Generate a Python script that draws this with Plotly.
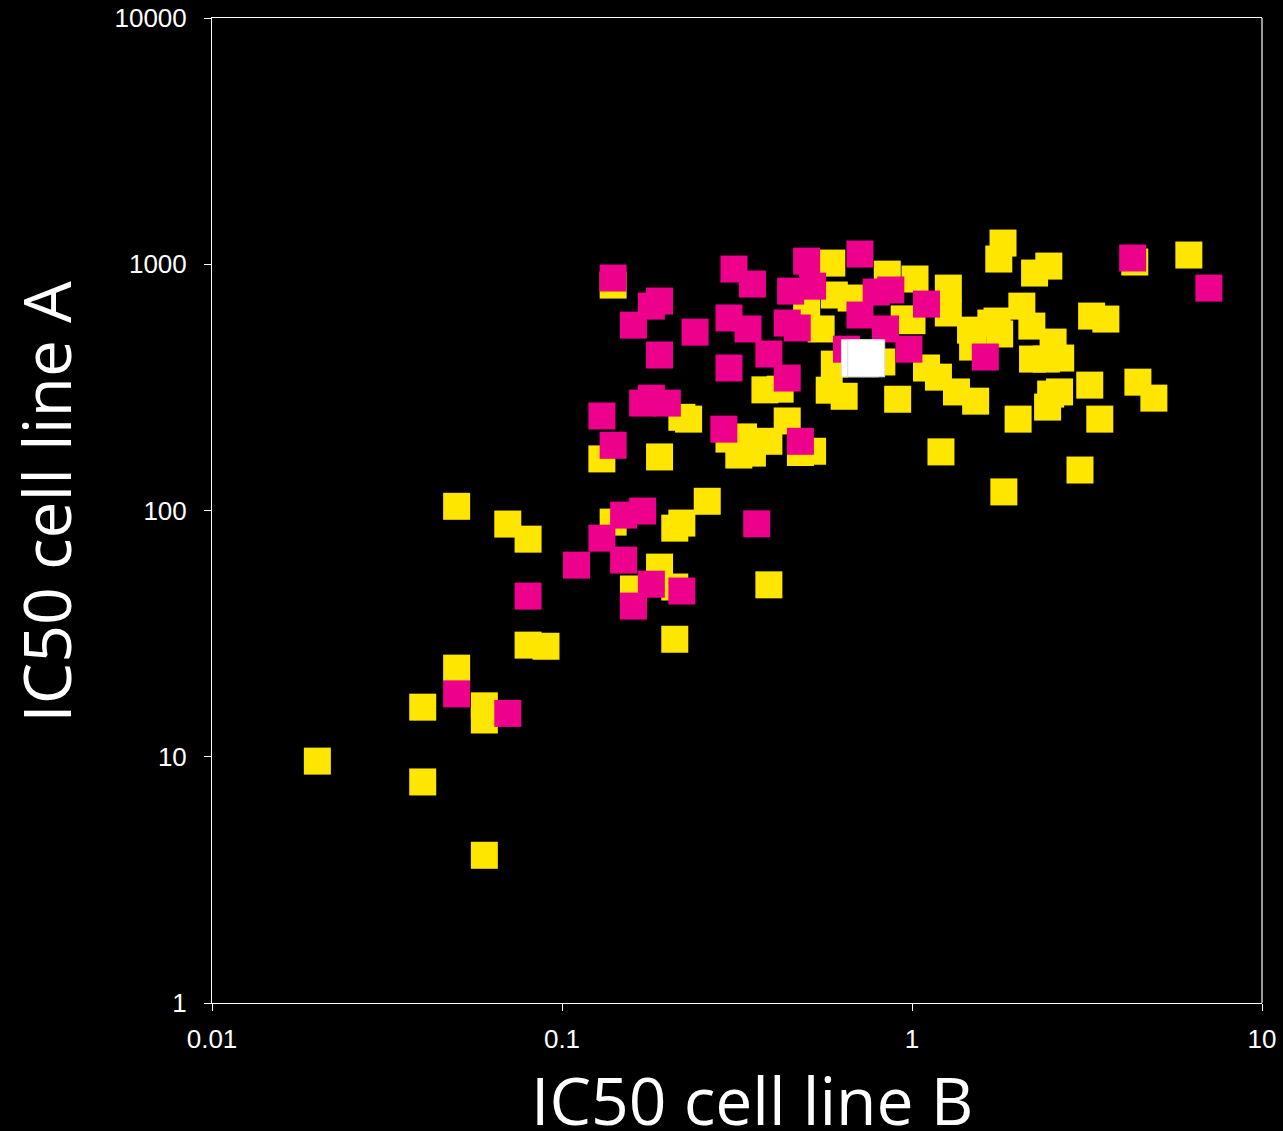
import plotly.graph_objects as go

# IC50 values (cell line B on x, cell line A on y)
yellow_b = [0.14, 0.59, 0.85, 1.02, 0.60, 0.67, 0.50, 0.55, 1.00, 0.95,
            0.38, 0.42, 0.58, 0.60, 0.64, 0.82, 0.91, 1.10, 0.22, 0.23,
            0.13, 0.19, 0.30, 0.32, 0.35, 0.39, 0.33, 0.44, 0.48, 0.52,
            0.26, 1.82, 1.77, 2.24, 2.46, 1.27, 1.27, 1.68, 1.75, 1.47,
            1.78, 1.49, 2.06, 2.20, 2.53, 2.21, 2.66, 2.42, 3.26, 3.58,
            1.19, 1.34, 1.52, 2.49, 2.64, 2.44, 3.22, 4.42, 4.91, 2.01,
            3.44, 1.21, 3.02, 1.83, 6.18, 4.33, 0.05, 0.07, 0.08, 0.14,
            0.21, 0.22, 0.19, 0.21, 0.16, 0.21, 0.08, 0.09, 0.05, 0.04,
            0.06, 0.06, 0.02, 0.04, 0.06, 0.39]
yellow_a = [823, 1011, 912, 871, 750, 729, 653, 546, 590, 600,
            309, 311, 308, 393, 291, 401, 283, 379, 239, 235,
            162, 165, 195, 168, 171, 191, 199, 231, 172, 174,
            109, 1219, 1050, 921, 983, 800, 634, 577, 588, 540,
            521, 461, 676, 561, 483, 412, 416, 412, 616, 599,
            348, 303, 278, 297, 303, 263, 323, 332, 286, 235,
            235, 173, 146, 119, 1090, 1021, 104, 88.1, 76.5, 89.7,
            84.8, 88.9, 58.9, 48.9, 48.0, 30.0, 28.4, 28.1, 22.9, 15.9,
            16.1, 14.1, 9.6, 7.9, 3.98, 49.9]

magenta_b = [0.14, 0.19, 0.18, 0.16, 0.24, 0.19, 0.31, 0.35, 0.30, 0.34,
             0.30, 0.39, 0.44, 0.50, 0.45, 0.52, 0.44, 0.47, 0.71, 0.79,
             0.87, 0.71, 0.84, 0.65, 0.98, 1.10, 0.13, 0.14, 0.17, 0.18,
             0.20, 0.29, 0.48, 4.27, 7.05, 1.62, 0.15, 0.17, 0.13, 0.11,
             0.15, 0.18, 0.22, 0.16, 0.08, 0.05, 0.07, 0.36]
magenta_a = [879, 709, 676, 566, 530, 428, 956, 831, 605, 546,
             379, 432, 345, 1030, 778, 815, 577, 551, 1100, 771,
             786, 622, 546, 452, 452, 689, 242, 184, 273, 286,
             273, 214, 191, 1060, 800, 420, 95.8, 99.5, 77.2, 60.0,
             62.9, 50.2, 47.1, 40.9, 44.9, 18.0, 15.0, 88.3]

white_b = [0.71, 0.74]
white_a = [415, 415]

x_ticks = [0.01, 0.1, 1, 10]
x_ticktext = ["0.01", "0.1", "1", "10"]
y_ticks = [1, 10, 100, 1000, 10000]
y_ticktext = ["1", "10", "100", "1000", "10000"]

YELLOW = "#FFE600"
MAGENTA = "#EC008C"

fig = go.Figure()
fig.add_trace(go.Scatter(x=yellow_b, y=yellow_a, mode="markers",
                         marker=dict(symbol="square", size=27, color=YELLOW,
                                     line=dict(width=0))))
fig.add_trace(go.Scatter(x=magenta_b, y=magenta_a, mode="markers",
                         marker=dict(symbol="square", size=27, color=MAGENTA,
                                     line=dict(width=0))))
fig.add_trace(go.Scatter(x=white_b, y=white_a, mode="markers",
                         marker=dict(symbol="square", size=37, color="#FFFFFF",
                                     line=dict(width=1, color="#DDDDDD"))))

tick_font = dict(family="Arial, Liberation Sans, sans-serif", size=26, color="#FFFFFF")
title_font = dict(family="Century Gothic, Open Sans, sans-serif", size=66, color="#FFFFFF")

fig.update_layout(
    width=1283, height=1131,
    margin=dict(l=212, r=21, t=18, b=128, autoexpand=False),
    paper_bgcolor="#000000", plot_bgcolor="#000000",
    showlegend=False,
    xaxis=dict(type="log", range=[-2, 1], tickvals=x_ticks, ticktext=x_ticktext,
               automargin=False,
               showgrid=False, zeroline=False, showline=True, linecolor="#FFFFFF",
               linewidth=1, mirror=True, ticks="outside", ticklen=7,
               tickcolor="#FFFFFF", tickfont=tick_font, ticklabelstandoff=6),
    yaxis=dict(type="log", range=[0, 4], tickvals=y_ticks, ticktext=y_ticktext,
               automargin=False,
               showgrid=False, zeroline=False, showline=True, linecolor="#FFFFFF",
               linewidth=1, ticks="outside", ticklen=7, tickcolor="#FFFFFF",
               tickfont=tick_font, ticklabelstandoff=12),
    shapes=[dict(type="line", xref="paper", yref="paper", x0=1, x1=1, y0=0, y1=1,
                 line=dict(color="#999999", width=2))],
    annotations=[
        dict(text="IC50 cell line B", xref="paper", yref="paper", x=0.514, y=-0.097,
             xanchor="center", yanchor="middle", showarrow=False, font=title_font),
        dict(text="IC50 cell line A", xref="paper", yref="paper", x=-0.159, y=0.509,
             xanchor="center", yanchor="middle", showarrow=False, textangle=-90,
             font=title_font),
    ],
)

fig.write_html("out.html")
